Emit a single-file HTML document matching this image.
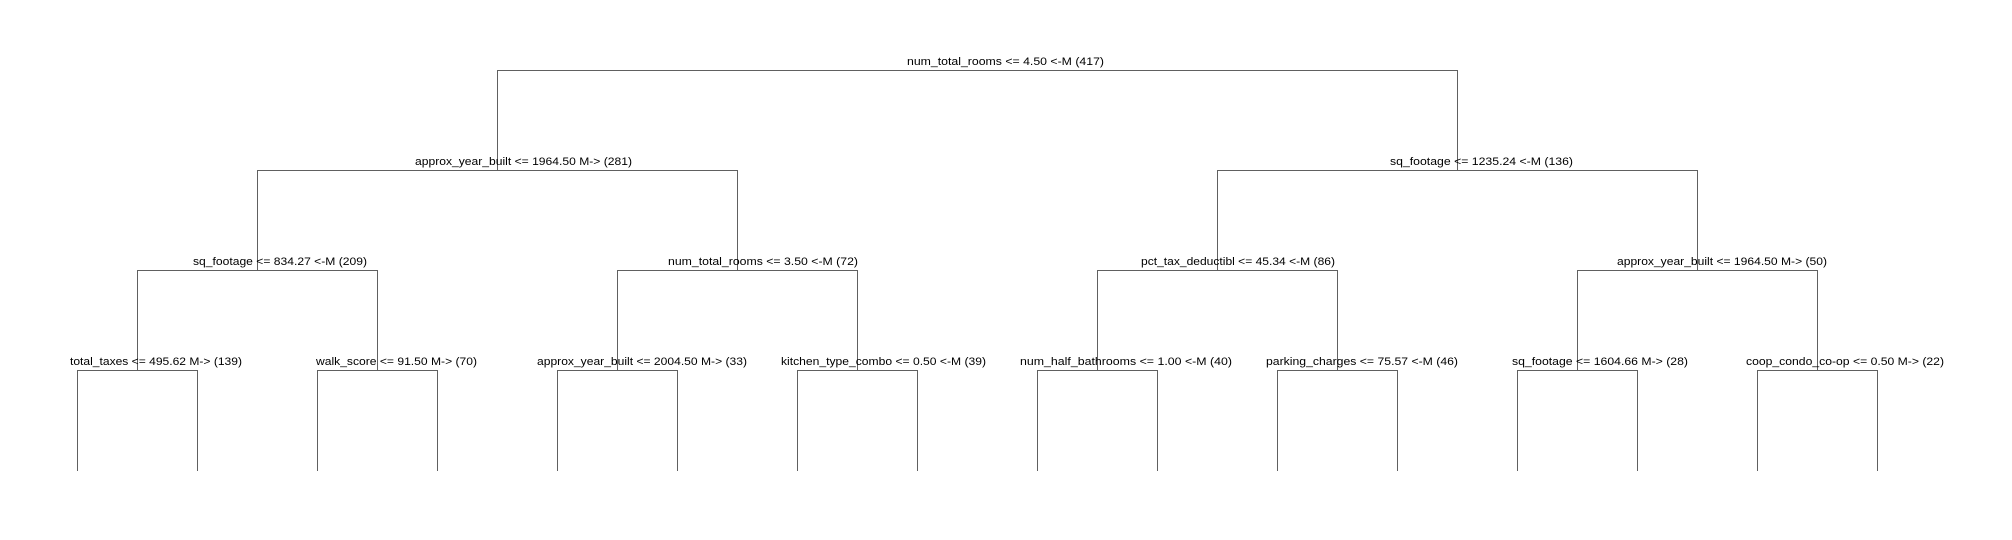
<!DOCTYPE html>
<html><head><meta charset="utf-8"><style>html,body{margin:0;padding:0;background:#fff}svg{display:block}</style></head>
<body>
<svg width="2012" height="540" viewBox="0 0 2012 540" xmlns="http://www.w3.org/2000/svg">
<g stroke="#606060" stroke-width="1" fill="none" shape-rendering="crispEdges">
<path d="M497.5 170.5V70.5H1457.5V170.5"/>
<path d="M257.5 270.5V170.5H737.5V270.5"/>
<path d="M1217.5 270.5V170.5H1697.5V270.5"/>
<path d="M137.5 370.5V270.5H377.5V370.5"/>
<path d="M617.5 370.5V270.5H857.5V370.5"/>
<path d="M1097.5 370.5V270.5H1337.5V370.5"/>
<path d="M1577.5 370.5V270.5H1817.5V370.5"/>
<path d="M77.5 471V370.5H197.5V471"/>
<path d="M317.5 471V370.5H437.5V471"/>
<path d="M557.5 471V370.5H677.5V471"/>
<path d="M797.5 471V370.5H917.5V471"/>
<path d="M1037.5 471V370.5H1157.5V471"/>
<path d="M1277.5 471V370.5H1397.5V471"/>
<path d="M1517.5 471V370.5H1637.5V471"/>
<path d="M1757.5 471V370.5H1877.5V471"/>
</g>
<g font-family="Liberation Sans, Arial, sans-serif" font-size="11" fill="#000" lengthAdjust="spacingAndGlyphs">
<text x="907" y="65" textLength="197" lengthAdjust="spacingAndGlyphs">num_total_rooms &lt;= 4.50 &lt;-M (417)</text>
<text x="415" y="165" textLength="217" lengthAdjust="spacingAndGlyphs">approx_year_built &lt;= 1964.50 M-&gt; (281)</text>
<text x="1390" y="165" textLength="183" lengthAdjust="spacingAndGlyphs">sq_footage &lt;= 1235.24 &lt;-M (136)</text>
<text x="193" y="265" textLength="174" lengthAdjust="spacingAndGlyphs">sq_footage &lt;= 834.27 &lt;-M (209)</text>
<text x="668" y="265" textLength="190" lengthAdjust="spacingAndGlyphs">num_total_rooms &lt;= 3.50 &lt;-M (72)</text>
<text x="1141" y="265" textLength="194" lengthAdjust="spacingAndGlyphs">pct_tax_deductibl &lt;= 45.34 &lt;-M (86)</text>
<text x="1617" y="265" textLength="210" lengthAdjust="spacingAndGlyphs">approx_year_built &lt;= 1964.50 M-&gt; (50)</text>
<text x="70" y="365" textLength="172" lengthAdjust="spacingAndGlyphs">total_taxes &lt;= 495.62 M-&gt; (139)</text>
<text x="316" y="365" textLength="161" lengthAdjust="spacingAndGlyphs">walk_score &lt;= 91.50 M-&gt; (70)</text>
<text x="537" y="365" textLength="210" lengthAdjust="spacingAndGlyphs">approx_year_built &lt;= 2004.50 M-&gt; (33)</text>
<text x="781" y="365" textLength="205" lengthAdjust="spacingAndGlyphs">kitchen_type_combo &lt;= 0.50 &lt;-M (39)</text>
<text x="1020" y="365" textLength="212" lengthAdjust="spacingAndGlyphs">num_half_bathrooms &lt;= 1.00 &lt;-M (40)</text>
<text x="1266" y="365" textLength="192" lengthAdjust="spacingAndGlyphs">parking_charges &lt;= 75.57 &lt;-M (46)</text>
<text x="1512" y="365" textLength="176" lengthAdjust="spacingAndGlyphs">sq_footage &lt;= 1604.66 M-&gt; (28)</text>
<text x="1746" y="365" textLength="198" lengthAdjust="spacingAndGlyphs">coop_condo_co-op &lt;= 0.50 M-&gt; (22)</text>
</g>
</svg>
</body></html>
